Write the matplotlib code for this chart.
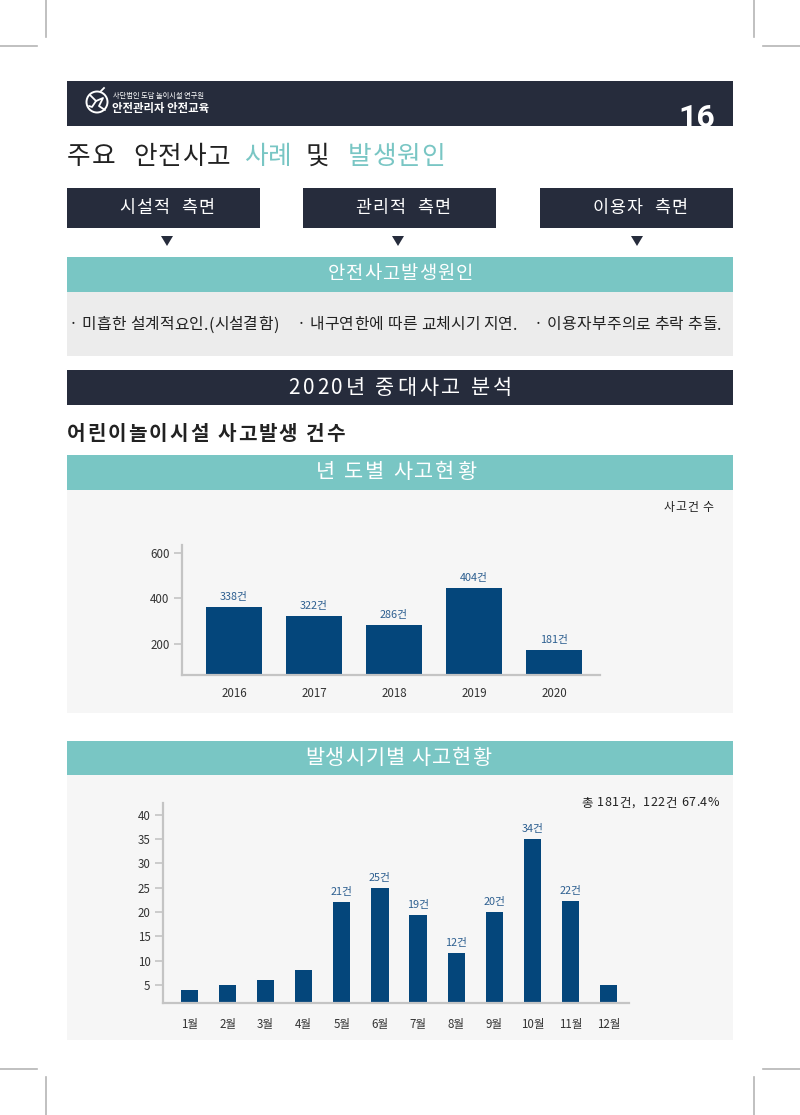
import matplotlib
matplotlib.use("Agg")
import matplotlib.pyplot as plt
from matplotlib.patches import Rectangle, Circle, Polygon
from matplotlib.textpath import TextToPath
from matplotlib.font_manager import FontProperties

KR = ['Noto Sans CJK KR', 'DejaVu Sans']
plt.rcParams['font.family'] = KR

# ---------------- data ----------------
years = ['2016', '2017', '2018', '2019', '2020']
year_bar_values = [363, 322, 285, 445, 174]          # bar heights as drawn
year_labels = ['338건', '322건', '286건', '404건', '181건']
year_yticks = [200, 400, 600]

months = ['1월', '2월', '3월', '4월', '5월', '6월', '7월', '8월', '9월', '10월', '11월', '12월']
month_bar_values = [4, 5, 6, 8, 22, 25, 19.5, 11.6, 20, 35, 22.3, 5]
month_labels = ['', '', '', '', '21건', '25건', '19건', '12건', '20건', '34건', '22건', '']
month_yticks = [5, 10, 15, 20, 25, 30, 35, 40]

aspects = ['시설적 측면', '관리적 측면', '이용자 측면']
causes = ['· 미흡한 설계적요인.(시설결함)', '· 내구연한에 따른 교체시기 지연.', '· 이용자부주의로 추락 추돌.']
summary_text = '총 181건,  122건 67.4%'

# ---------------- style ----------------
NAVY = '#262c3c'
TEAL = '#79c6c4'
BAR = '#04467b'
LBL = '#2d5f90'
PANEL = '#f6f6f6'
CAUSE_BG = '#ececec'
AXIS = '#c4c4c4'
TXT = '#222222'

W, H = 800, 1115
DPI = 100
fig = plt.figure(figsize=(W / DPI, H / DPI), dpi=DPI)
fig.patch.set_facecolor('white')
bg = fig.add_axes([0, 0, 1, 1])
bg.set_xlim(0, W)
bg.set_ylim(H, 0)
bg.axis('off')

_ttp = TextToPath()


def _tw(s, size, weight):
    prop = FontProperties(family='Noto Sans CJK KR', size=size, weight=weight)
    w, h, d = _ttp.get_text_width_height_descent(s, prop, ismath=False)
    return w * DPI / 72.0


def tracked(x, y, s, size, track=0.0, ha='left', color=TXT, weight='normal', z=4):
    """Draw text with extra letter spacing (track, in pixels)."""
    ref = _tw('|', size, weight)
    offs = [(_tw(s[:i] + '|', size, weight) - ref) if i else 0.0 for i in range(len(s))]
    total = _tw(s, size, weight) + track * (len(s) - 1)
    x0 = x if ha == 'left' else (x - total / 2 if ha == 'center' else x - total)
    for i, ch in enumerate(s):
        if ch == ' ':
            continue
        bg.text(x0 + offs[i] + i * track, y, ch, color=color, fontsize=size, fontweight=weight,
                va='center', ha='left', zorder=z)


def rect(x0, y0, x1, y1, color, z=1):
    bg.add_patch(Rectangle((x0, y0), x1 - x0, y1 - y0, facecolor=color, edgecolor='none', zorder=z))


# crop marks
for xs, ys in [((45.7, 45.7), (0, 37)), ((0, 37), (45.7, 45.7)),
               ((754.3, 754.3), (0, 37)), ((763, 800), (45.7, 45.7)),
               ((0, 37), (1069, 1069)), ((45.7, 45.7), (1077, 1115)),
               ((763, 800), (1069, 1069)), ((754.3, 754.3), (1077, 1115))]:
    bg.plot(xs, ys, color='#b5b5b5', lw=1.2, zorder=2)

# header bar
rect(67, 81, 733, 126, NAVY)
# logo
bg.add_patch(Circle((97, 102), 10.5, facecolor='none', edgecolor='white', lw=1.4, zorder=3))
bg.plot([90, 96, 103, 99, 105], [95, 101, 98, 106, 110], color='white', lw=1.3, zorder=3, solid_capstyle='round')
bg.plot([96, 92, 89], [101, 107, 106], color='white', lw=1.3, zorder=3, solid_capstyle='round')
bg.plot([101, 104], [91, 88], color='white', lw=1.3, zorder=3)
bg.text(113, 96, '사단법인 도담 놀이시설 연구원', color='white', fontsize=5.2, va='center', ha='left', zorder=4)
bg.text(112.5, 108.5, '안전관리자 안전교육', color='white', fontsize=8.2, fontweight='bold', va='center', ha='left', zorder=4)
t16 = bg.text(715, 127, '16', color='white', fontsize=23, fontweight='bold', va='baseline', ha='right',
              family=['Liberation Sans Narrow', 'Roboto', 'DejaVu Sans'], zorder=4)
t16.set_clip_path(Rectangle((67, 81), 666, 45, transform=bg.transData))

# title
title_parts = [('주요', 67, TXT, 'medium'), ('안전사고', 133, TXT, 'medium'), ('사례', 244, TEAL, 'normal'),
               ('및', 306, TXT, 'medium'), ('발생원인', 348, TEAL, 'normal')]
for s, x, c, w in title_parts:
    tracked(x, 157, s, 18.5, track=0.8, color=c, weight=w)

# aspect boxes
box_x = [(67, 260), (303, 496), (540, 733)]
tri_x = [167, 398, 637]
for (x0, x1), lab, tx in zip(box_x, aspects, tri_x):
    rect(x0, 188, x1, 228, NAVY)
    tracked((x0 + x1) / 2 + 3, 208, lab.replace(' ', '  '), 12.5, track=1.2, ha='center', color='white', weight='medium')
    bg.add_patch(Polygon([(tx - 6, 236), (tx + 6, 236), (tx, 246)], closed=True, facecolor=NAVY,
                         edgecolor='none', zorder=3))

# cause section
rect(67, 257, 733, 292, TEAL)
tracked(400, 274, '안전사고발생원인', 13.5, track=1.0, ha='center', color='white')
rect(67, 292, 733, 356, CAUSE_BG)
for s, x in zip(causes, [69, 297, 534]):
    tracked(x, 325, s, 11.4, track=0.2, color=TXT, weight='medium')

# 2020 analysis
rect(67, 370, 733, 405, NAVY)
tracked(400, 388, '2020년 중대사고 분석', 15, track=2.8, ha='center', color='white')
tracked(67, 434, '어린이놀이시설 사고발생 건수', 14.5, track=2.0, color=TXT, weight='bold')

# panel 1
rect(67, 455, 733, 490, TEAL)
tracked(396, 472, '년 도별 사고현황', 15, track=2.0, ha='center', color='white')
rect(67, 490, 733, 713, PANEL)
tracked(713, 507, '사고건 수', 8.6, track=0.6, ha='right', color=TXT, weight='medium')

# panel 2
rect(67, 741, 733, 775, TEAL)
tracked(398, 758, '발생시기별 사고현황', 15, track=1.0, ha='center', color='white')
rect(67, 775, 733, 1040, PANEL)
tracked(719, 803, summary_text, 9.0, track=0.6, ha='right', color=TXT, weight='medium')


def chart_axes(x0, ytop, x1, ybot):
    return fig.add_axes([x0 / W, 1 - ybot / H, (x1 - x0) / W, (ybot - ytop) / H])


def style(ax):
    ax.set_facecolor('none')
    for s in ['top', 'right']:
        ax.spines[s].set_visible(False)
    for s in ['left', 'bottom']:
        ax.spines[s].set_color(AXIS)
        ax.spines[s].set_linewidth(1.6)
    ax.tick_params(axis='y', length=6, width=1.2, color=AXIS, labelsize=8.3, labelcolor='#333333', pad=3)
    ax.tick_params(axis='x', length=0, labelsize=8.3, labelcolor='#333333', pad=9)


# chart 1
ax1 = chart_axes(182, 545, 600, 674.5)
style(ax1)
xs1 = list(range(len(years)))
bars1 = ax1.bar(xs1, year_bar_values, width=0.69, color=BAR, zorder=2)
ax1.set_xlim(-0.65, 4.575)
ax1.set_ylim(66, 634)
ax1.set_yticks(year_yticks)
ax1.set_xticks(xs1)
ax1.set_xticklabels(years)
for b, lab in zip(bars1, year_labels):
    ax1.annotate(lab, (b.get_x() + b.get_width() / 2, b.get_height()), xytext=(0, 3.5),
                 textcoords='offset points', ha='center', va='bottom', fontsize=7.8, color=LBL)

# chart 2
ax2 = chart_axes(163, 802.7, 628.7, 1002.7)
style(ax2)
xs2 = list(range(len(months)))
bars2 = ax2.bar(xs2, month_bar_values, width=0.45, color=BAR, zorder=2)
ax2.set_xlim(-0.695, 11.53)
ax2.set_ylim(1.36, 42.5)
ax2.set_yticks(month_yticks)
ax2.set_xticks(xs2)
ax2.set_xticklabels(months)
ax2.tick_params(axis='x', pad=11)
for b, lab in zip(bars2, month_labels):
    if lab:
        ax2.annotate(lab, (b.get_x() + b.get_width() / 2, b.get_height()), xytext=(0, 3.5),
                     textcoords='offset points', ha='center', va='bottom', fontsize=7.8, color=LBL)

fig.savefig('out.png', dpi=DPI, facecolor='white')
